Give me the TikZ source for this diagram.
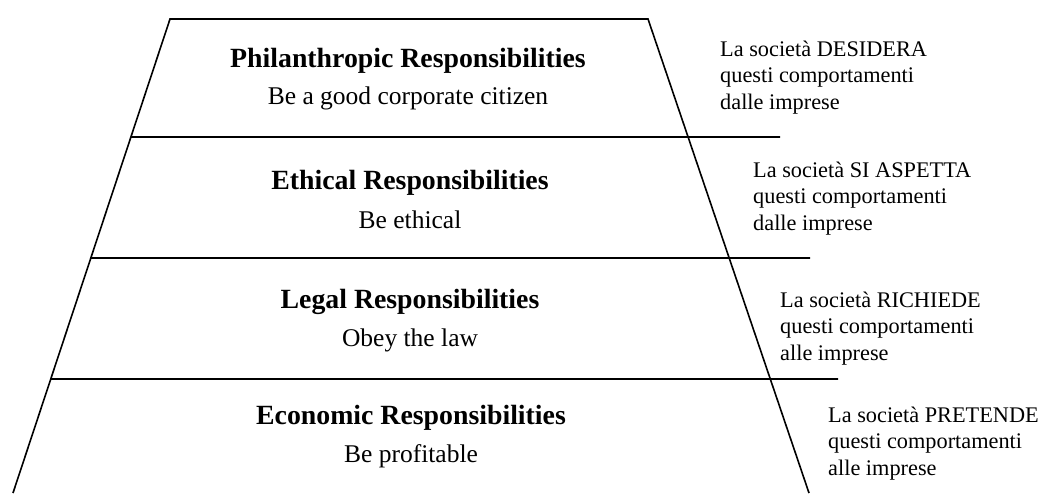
\documentclass[tikz,border=0pt]{standalone}
\usepackage{fontspec}
\setmainfont{Liberation Serif}
\usetikzlibrary{calc}
\begin{document}
\begin{tikzpicture}[x=1pt,y=-1pt,
  edge/.style={line width=1.6pt, black},
  ttl/.style={anchor=base, inner sep=0pt, font=\fontsize{27.8}{32}\selectfont\bfseries},
  sub/.style={anchor=base, inner sep=0pt, font=\fontsize{25.5}{30}\selectfont},
  side/.style={anchor=base west, inner sep=0pt, align=left, font=\fontsize{22.3}{26.5}\selectfont}]
\useasboundingbox (0,0) rectangle (1044,493);
\coordinate (TL) at (170,19);
\coordinate (TR) at (648,19);
\coordinate (BL) at (13,493);
\coordinate (BR) at (809,493);
\coordinate (L1) at ($(TL)!0.2489!(BL)$);
\coordinate (L2) at ($(TL)!0.5042!(BL)$);
\coordinate (L3) at ($(TL)!0.7595!(BL)$);
\coordinate (E1) at (780,137);
\coordinate (E2) at (810,258);
\coordinate (E3) at (838,379);
\draw[edge, line join=miter] (BL) -- (TL) -- (TR) -- (BR);
\draw[edge] (L1) -- (E1);
\draw[edge] (L2) -- (E2);
\draw[edge] (L3) -- (E3);
\node[ttl] (t1) at (408,67) {Philanthropic Responsibilities};
\node[sub] (s1) at (408,104) {Be a good corporate citizen};
\node[ttl] (t2) at (410,189) {Ethical Responsibilities};
\node[sub] (s2) at (410,228) {Be ethical};
\node[ttl] (t3) at (410,308) {Legal Responsibilities};
\node[sub] (s3) at (410,346) {Obey the law};
\node[ttl] (t4) at (411,424) {Economic Responsibilities};
\node[sub] (s4) at (411,462) {Be profitable};
% side labels: anchor is the baseline of the last line
\node[side] (r1) at (720,109) {La società DESIDERA\\questi comportamenti\\dalle imprese};
\node[side] (r2) at (753,230) {La società SI ASPETTA\\questi comportamenti\\dalle imprese};
\node[side] (r3) at (780,360) {La società RICHIEDE\\questi comportamenti\\alle imprese};
\node[side] (r4) at (828,475) {La società PRETENDE\\questi comportamenti\\alle imprese};
\end{tikzpicture}
\end{document}
